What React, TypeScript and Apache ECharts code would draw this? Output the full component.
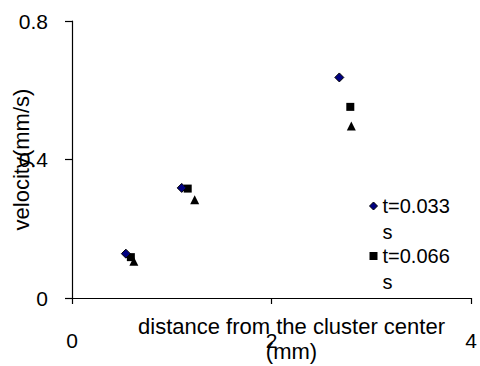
import React, { useEffect, useRef } from "react";
import * as echarts from "echarts";

// Measured velocities at three time steps, [distance (mm), velocity (mm/s)]
const seriesNames = ["t=0.033 s", "t=0.066 s", "t=0.099 s"];
const pointsT033: [number, number][] = [
  [0.54, 0.128],
  [1.1, 0.318],
  [2.68, 0.637],
];
const pointsT066: [number, number][] = [
  [0.59, 0.118],
  [1.16, 0.316],
  [2.79, 0.552],
];
const pointsT099: [number, number][] = [
  [0.62, 0.106],
  [1.23, 0.284],
  [2.8, 0.497],
];
const xTicks = { min: 0, max: 4, interval: 2 };
const yTicks = { min: 0, max: 0.8, interval: 0.4 };

const FONT = "'Liberation Sans', Arial, sans-serif";

export default function App() {
  const ref = useRef<HTMLDivElement>(null);

  useEffect(() => {
    if (!ref.current) return;
    const chart = echarts.init(ref.current, null, { renderer: "svg" });
    chart.setOption({
      animation: false,
      backgroundColor: "#ffffff",
      textStyle: { fontFamily: FONT, color: "#000" },
      grid: { left: 72, right: 9, top: 21, bottom: 68, outerBoundsMode: "none", containLabel: false },
      xAxis: {
        type: "value",
        min: xTicks.min,
        max: xTicks.max,
        interval: xTicks.interval,
        name: "distance from the cluster center\n(mm)",
        nameLocation: "middle",
        nameGap: 16,
        nameMoveOverlap: false,
        nameTextStyle: {
          fontFamily: FONT,
          fontSize: 22,
          lineHeight: 25,
          color: "#000",
          padding: [0, 0, 0, 40],
        },
        axisLine: { show: true, onZero: false, lineStyle: { color: "#000", width: 1.2 } },
        axisTick: { show: true, inside: false, length: 6, lineStyle: { color: "#000", width: 1.2 } },
        axisLabel: { fontFamily: FONT, fontSize: 21, color: "#000", margin: 32 },
        splitLine: { show: false },
      },
      yAxis: {
        type: "value",
        min: yTicks.min,
        max: yTicks.max,
        interval: yTicks.interval,
        name: "velocity(mm/s)",
        nameLocation: "middle",
        nameGap: 40,
        nameRotate: 90,
        nameMoveOverlap: false,
        nameTextStyle: { fontFamily: FONT, fontSize: 22, color: "#000" },
        axisLine: { show: true, onZero: false, lineStyle: { color: "#000", width: 1.2 } },
        axisTick: { show: true, inside: false, length: 7, lineStyle: { color: "#000", width: 1.2 } },
        axisLabel: { fontFamily: FONT, fontSize: 21, color: "#000", margin: 24 },
        splitLine: { show: false },
      },
      legend: {
        orient: "vertical",
        left: 369,
        top: 167,
        padding: 0,
        itemWidth: 8,
        itemHeight: 8,
        itemGap: -28,
        // a leading blank line keeps the first line level with the icon
        formatter: (name: string) => "\n" + name.replace(" ", "\n"),
        textStyle: {
          fontFamily: FONT,
          fontSize: 20,
          lineHeight: 26,
          color: "#000",
        },
        data: [
          {
            name: seriesNames[0],
            icon: "diamond",
            itemStyle: { color: "#000080", borderColor: "#000", borderWidth: 1 },
          },
          { name: seriesNames[1], icon: "rect", itemStyle: { color: "#000" } },
        ],
      },
      series: [
        {
          name: seriesNames[0],
          type: "scatter",
          symbol: "diamond",
          symbolSize: 9,
          itemStyle: { color: "#000080", borderColor: "#000", borderWidth: 1, opacity: 1 },
          data: pointsT033,
          z: 4,
        },
        {
          name: seriesNames[1],
          type: "scatter",
          symbol: "rect",
          symbolSize: 8,
          itemStyle: { color: "#000", opacity: 1 },
          data: pointsT066,
          z: 3,
        },
        {
          name: seriesNames[2],
          type: "scatter",
          symbol: "triangle",
          symbolSize: 9,
          itemStyle: { color: "#000", opacity: 1 },
          data: pointsT099,
          z: 2,
        },
      ],
    });
    return () => chart.dispose();
  }, []);

  return (
    <div
      ref={ref}
      style={{ position: "fixed", left: 0, top: 0, width: 480, height: 366 }}
    />
  );
}
